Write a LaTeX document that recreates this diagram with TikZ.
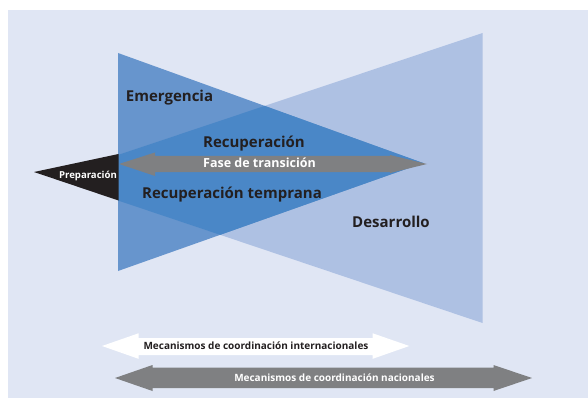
\documentclass[tikz,border=0pt]{standalone}
\usepackage{fontspec}
\setmainfont{Open Sans}
\definecolor{bgpanel}{HTML}{E0E6F4}
\definecolor{emerblue}{HTML}{6795CD}
\definecolor{devblue}{HTML}{AEC1E3}
\definecolor{overblue}{HTML}{4A87C7}
\definecolor{arrowgrey}{HTML}{7F8082}
\definecolor{prepblack}{HTML}{231F20}
\definecolor{textdark}{HTML}{231F20}
\begin{document}
\begin{tikzpicture}[x=1pt,y=-1pt,
  bigtxt/.style={inner sep=0pt,anchor=base,font=\fontsize{15}{17}\selectfont\bfseries,text=textdark},
  midtxt/.style={inner sep=0pt,anchor=base,font=\fontsize{12.5}{14}\selectfont\bfseries,text=white},
  smalltxt/.style={inner sep=0pt,anchor=base,font=\fontsize{10}{12}\selectfont\bfseries}]
\useasboundingbox (0,0) rectangle (588,398);
\fill[white] (0,0) rectangle (588,398);
\fill[bgpanel] (7.5,10) rectangle (588,398);
% development (right) trapezoid
\fill[devblue] (118,155) -- (482.5,33) -- (482.5,323) -- (118,200.5) -- cycle;
% emergency (left) triangle
\fill[emerblue] (118,53) -- (423,163) -- (118,271) -- cycle;
% overlap
\begin{scope}
  \clip (118,155) -- (482.5,33) -- (482.5,323) -- (118,200.5) -- cycle;
  \fill[overblue] (118,53) -- (423,163) -- (118,271) -- cycle;
\end{scope}
% preparation triangle
\fill[prepblack] (34,172) -- (118.5,154) -- (118.5,200.5) -- cycle;
% transition arrow
\fill[arrowgrey] (119,164) -- (155,152.5) -- (155,156) -- (390,156) -- (390,155) -- (427,164)
  -- (390,173) -- (390,172) -- (155,172) -- (155,176) -- cycle;
% international arrow
\fill[white] (102,346) -- (138.5,333.3) -- (138.5,338) -- (372.7,338) -- (372.7,333.3) -- (409.3,346)
  -- (372.7,358.8) -- (372.7,355) -- (138.5,355) -- (138.5,358.8) -- cycle;
% national arrow
\fill[arrowgrey] (115,378) -- (152.5,365) -- (152.5,367.5) -- (493.5,367.5) -- (493.5,365) -- (532,378)
  -- (493.5,391) -- (493.5,388) -- (152.5,388) -- (152.5,391) -- cycle;
% texts
\node[bigtxt] (emer) at (169.5,102) {Emergencia};
\node[bigtxt] (recu) at (254,147.5) {Recuperación};
\node[midtxt] (fase) at (259.5,167.5) {Fase de transición};
\node[bigtxt] (rect) at (232,198.5) {Recuperación temprana};
\node[bigtxt] (desa) at (391,227.5) {Desarrollo};
\node[smalltxt,text=white,font=\fontsize{9.6}{11}\selectfont\bfseries] (prep) at (88,178.5) {Preparación};
\node[smalltxt,text=textdark] (intl) at (256,349.8) {Mecanismos de coordinación internacionales};
\node[smalltxt,text=white] (nat) at (334.5,381) {Mecanismos de coordinación nacionales};
\end{tikzpicture}
\end{document}
